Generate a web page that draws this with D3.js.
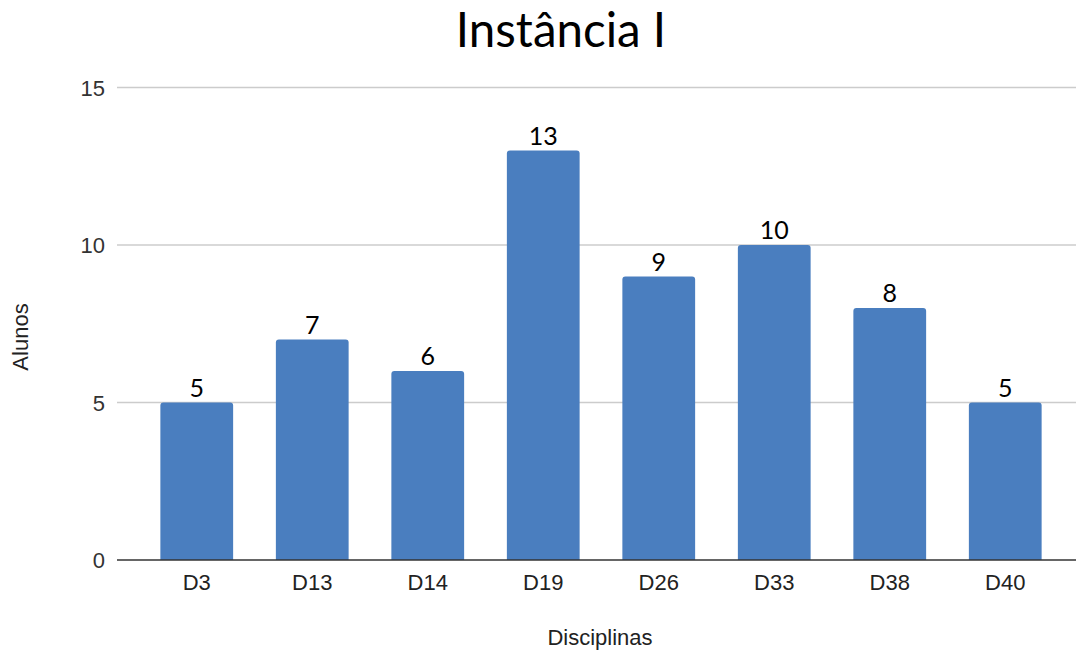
<!DOCTYPE html>
<html>
<head>
<meta charset="utf-8">
<script src="https://cdn.jsdelivr.net/npm/d3@7"></script>
<style>
  html, body { margin: 0; padding: 0; background: #fff; }
  svg { display: block; }
</style>
</head>
<body>
<svg id="chart" width="1076" height="652"></svg>
<script>
// Alunos por disciplina — Instância I
const categories = ["D3", "D13", "D14", "D19", "D26", "D33", "D38", "D40"];
const alunos = [5, 7, 6, 13, 9, 10, 8, 5];
const yTicks = [0, 5, 10, 15];

const svg = d3.select("#chart");
const gridLeft = 117, gridRight = 1076;
const plot = { left: 139, right: 1063, top: 87.5, bottom: 560 };
const sans = "'Liberation Sans', Arial, sans-serif";
const labelFont = "Lato, 'Open Sans', sans-serif";

const x = d3.scaleBand()
  .domain(categories)
  .range([plot.left, plot.right])
  .paddingInner(0.37)
  .paddingOuter(0.185);

const y = d3.scaleLinear()
  .domain([0, 15])
  .range([plot.bottom, plot.top]);

// Title
svg.append("text")
  .attr("x", 561)
  .attr("y", 47)
  .attr("text-anchor", "middle")
  .attr("font-family", labelFont)
  .attr("font-size", 47.5)
  .attr("fill", "#000")
  .text("Instância I");

// Horizontal gridlines
svg.append("g")
  .selectAll("line")
  .data(yTicks.filter(d => d > 0))
  .join("line")
  .attr("x1", gridLeft)
  .attr("x2", gridRight)
  .attr("y1", d => y(d))
  .attr("y2", d => y(d))
  .attr("stroke", "#cccccc")
  .attr("stroke-width", 1.5);

// Y tick labels
svg.append("g")
  .selectAll("text")
  .data(yTicks)
  .join("text")
  .attr("x", 105)
  .attr("y", d => y(d) + 8)
  .attr("text-anchor", "end")
  .attr("font-family", sans)
  .attr("font-size", 22)
  .attr("fill", "#333")
  .text(d => d);

// Bars with rounded tops
const r = 3;
svg.append("g")
  .selectAll("path")
  .data(categories.map((c, i) => ({ c, v: alunos[i] })))
  .join("path")
  .attr("fill", "#4a7ebf")
  .attr("d", d => {
    const x0 = x(d.c), w = x.bandwidth();
    const yt = y(d.v), yb = y(0);
    return `M${x0},${yb}V${yt + r}Q${x0},${yt} ${x0 + r},${yt}` +
      `H${x0 + w - r}Q${x0 + w},${yt} ${x0 + w},${yt + r}V${yb}Z`;
  });

// Baseline
svg.append("line")
  .attr("x1", gridLeft)
  .attr("x2", gridRight)
  .attr("y1", y(0))
  .attr("y2", y(0))
  .attr("stroke", "#333")
  .attr("stroke-width", 1.5);

// Value labels above bars
svg.append("g")
  .selectAll("text")
  .data(categories.map((c, i) => ({ c, v: alunos[i] })))
  .join("text")
  .attr("x", d => x(d.c) + x.bandwidth() / 2)
  .attr("y", d => y(d.v) - 6)
  .attr("text-anchor", "middle")
  .attr("font-family", labelFont)
  .attr("font-size", 25)
  .attr("fill", "#000")
  .text(d => d.v);

// X category labels
svg.append("g")
  .selectAll("text")
  .data(categories)
  .join("text")
  .attr("x", d => x(d) + x.bandwidth() / 2)
  .attr("y", 590)
  .attr("text-anchor", "middle")
  .attr("font-family", sans)
  .attr("font-size", 22)
  .attr("fill", "#222")
  .text(d => d);

// Axis titles
svg.append("text")
  .attr("x", 600)
  .attr("y", 645)
  .attr("text-anchor", "middle")
  .attr("font-family", sans)
  .attr("font-size", 22)
  .attr("fill", "#222")
  .text("Disciplinas");

svg.append("text")
  .attr("transform", "translate(28,337) rotate(-90)")
  .attr("text-anchor", "middle")
  .attr("font-family", sans)
  .attr("font-size", 22)
  .attr("fill", "#222")
  .text("Alunos");
</script>
</body>
</html>
